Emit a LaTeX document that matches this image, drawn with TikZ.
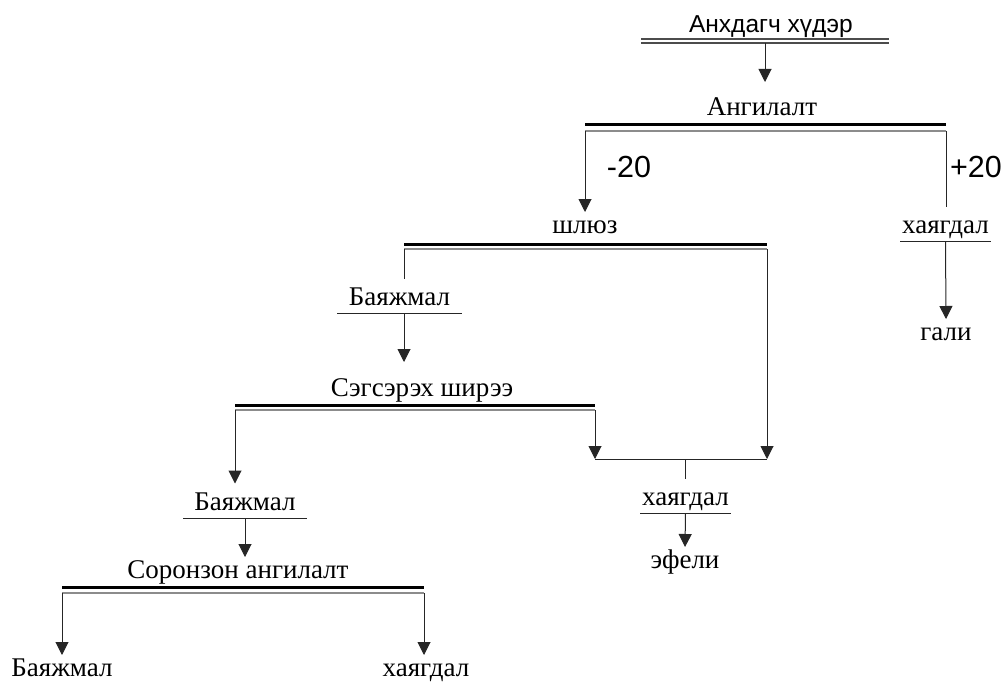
\documentclass[tikz,border=0pt]{standalone}
\usepackage{fontspec}
\setmainfont{Liberation Serif}
\newfontfamily\sansfam{Liberation Sans}
\usetikzlibrary{arrows.meta}

\begin{document}
\begin{tikzpicture}[
    x=1pt, y=-1pt,
    txt/.style={font=\fontsize{27}{31}\selectfont, anchor=base, inner sep=0pt, outer sep=0pt, text height=18pt, text depth=0pt, inner ysep=3pt},
    ul/.style={txt, minimum width=#1, inner ysep=8.5pt},
    feedtxt/.style={font=\sansfam\fontsize{24.5}{28}\selectfont, anchor=base, inner sep=0pt},
    num/.style={font=\sansfam\fontsize{30.5}{34}\selectfont, anchor=base, inner sep=0pt},
    sep/.style={minimum width=#1, minimum height=6pt, inner sep=0pt, outer sep=0pt},
    thk/.style={line width=3pt, black},
    thn/.style={line width=1.3pt, black!45},
    dbl/.style={line width=1.2pt, black!70},
    bar/.style={line width=1pt, black!85},
    ln/.style={line width=1pt, black!85},
    ar/.style={-{Triangle[length=13pt, width=13pt]}, line width=1pt, black!85}
]
\useasboundingbox (0,0) rectangle (1004,682);

% feed
\node[feedtxt] (feed) at (771,33) {Анхдагч хүдэр};
\node[sep=248pt, minimum height=4pt] (fsep) at (765,41) {};
\draw[dbl] (fsep.north west) -- (fsep.north east);
\draw[dbl] (fsep.south west) -- (fsep.south east);

% classification
\node[txt] (cls) at (762,116) {Ангилалт};
\node[sep=361pt] (clsep) at (765.5,128) {};
\draw[thk] (clsep.north west) -- (clsep.north east);
\draw[thn] (clsep.south west) -- (clsep.south east);
\node[num] (minus) at (629,178) {-20};
\node[num] (plus) at (976,178) {+20};

% sluice
\node[txt] (gate) at (585,233) {шлюз};
\node[sep=363pt, minimum height=5pt] (gsep) at (585.5,246.5) {};
\draw[thk] (gsep.north west) -- (gsep.north east);
\draw[thn] (gsep.south west) -- (gsep.south east);

\node[ul=91pt] (w1) at (945.5,233) {хаягдал};
\node[txt] (gali) at (946,340) {гали};

\node[ul=125pt] (c1) at (399.5,305) {Баяжмал};

% shaking table
\node[txt] (shk) at (422,396) {Сэгсэрэх ширээ};
\node[sep=360pt, minimum height=5pt] (ssep) at (415,407.5) {};
\draw[thk] (ssep.north west) -- (ssep.north east);
\draw[thn] (ssep.south west) -- (ssep.south east);

\coordinate (jn) at (685,459);
\node[ul=91pt] (w2) at (685.5,505) {хаягдал};
\node[txt] (efeli) at (685,568) {эфели};

\node[ul=124pt] (c2) at (245,510) {Баяжмал};

% magnetic separation
\node[txt] (mag) at (238,578) {Соронзон ангилалт};
\node[sep=362pt] (msep) at (243,590) {};
\draw[thk] (msep.north west) -- (msep.north east);
\draw[thn] (msep.south west) -- (msep.south east);

\node[txt] (c3) at (62,676) {Баяжмал};
\node[txt] (w3) at (426,676) {хаягдал};

% underlines
\draw[bar] (w1.south west) -- (w1.south east);
\draw[bar] (c1.south west) -- (c1.south east);
\draw[bar] (w2.south west) -- (w2.south east);
\draw[bar] (c2.south west) -- (c2.south east);

% connectors
\draw[ar, shorten >=13pt] (fsep.south) -- (fsep.south |- cls.north);
\draw[ar] (clsep.south west) -- (clsep.south west |- gate.north);
\draw[ln] (clsep.south east) -- (clsep.south east |- w1.north);
\draw[ar] (w1.south) -- (gali.north);
\draw[ln] (gsep.south west) -- (gsep.south west |- c1.north);
\draw[ar, shorten >=13pt] (gsep.south west |- c1.south) -- (gsep.south west |- shk.north);
\draw[ar] (gsep.south east) -- (gsep.south east |- jn);
\draw[ar] (ssep.south east) -- (ssep.south east |- jn);
\draw[ln] (ssep.south east |- jn) -- (gsep.south east |- jn);
\draw[ln] (jn) -- (jn |- w2.north);
\draw[ar] (w2.south) -- (efeli.north);
\draw[ar] (ssep.south west) -- (ssep.south west |- c2.north);
\draw[ar] (c2.south) -- (c2.south |- mag.north);
\draw[ar] (msep.south west) -- (msep.south west |- c3.north);
\draw[ar] (msep.south east) -- (msep.south east |- w3.north);
\end{tikzpicture}
\end{document}
